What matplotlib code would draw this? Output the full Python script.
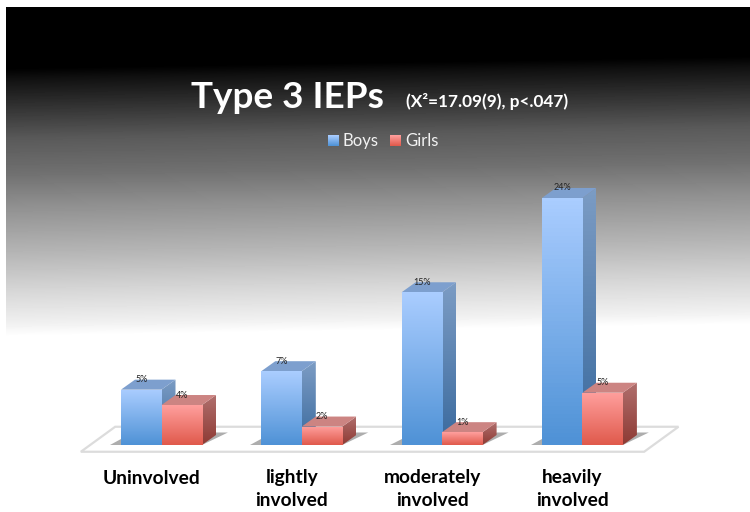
import numpy as np
import matplotlib
matplotlib.use("Agg")
import matplotlib.pyplot as plt
from matplotlib.patches import Polygon, Rectangle
from matplotlib.colors import LinearSegmentedColormap

categories = ["Uninvolved", "lightly\ninvolved", "moderately\ninvolved", "heavily\ninvolved"]
boys = [5.4, 7.2, 14.9, 24.1]
girls = [3.9, 1.8, 1.25, 5.1]
boys_labels = ["5%", "7%", "15%", "24%"]
girls_labels = ["4%", "2%", "1%", "5%"]

W, H = 750, 512
plt.rcParams["font.family"] = ["Lato", "DejaVu Sans"]

fig = plt.figure(figsize=(W / 100, H / 100), dpi=100)

# slide background, the grey ramp is tilted a little (lighter on the right)
bg = fig.add_axes([0, 0, 1, 1])
bg.axis("off")
yy, xx = np.mgrid[7:336, 6:W]
pos = yy + 12 * (xx / W - 0.5)
stops_y = [0, 62, 72, 100, 133, 167, 200, 250, 283, 317, 330, 340]
stops_v = [0, 0, 16, 50, 90, 112, 144, 184, 213, 240, 255, 255]
shade = np.interp(pos, stops_y, stops_v)
bg.imshow(shade, cmap="gray", vmin=0, vmax=255, extent=(6, W, 336, 7), aspect="auto", zorder=0)
bg.set_xlim(0, W)
bg.set_ylim(H, 0)

# chart axes: x in categories, y in percent
px_per_cat = 140.3
px_per_pct = 10.25
x0, y0 = 161.5, 445
ax = fig.add_axes([0, 0, 1, 1])
ax.patch.set_alpha(0)
ax.axis("off")

bw = 40.5 / px_per_cat
dx = 14.0 / px_per_cat
dy = 10.0 / px_per_pct

# floor
floor = [(-0.575, -0.66), (3.44, -0.66), (3.44 + 0.245, 1.78), (-0.575 + 0.245, 1.78)]
ax.add_patch(Polygon(floor, closed=True, fc="white", ec="#dcdcdc", lw=1.6, zorder=1))


def gradient(target, x1, x2, y1, y2, top, bottom, z):
    cm = LinearSegmentedColormap.from_list("g", [top, bottom])
    ax.add_patch(target)
    im = ax.imshow(np.linspace(0, 1, 64)[:, None], cmap=cm, extent=(x1, x2, y1, y2),
                   aspect="auto", zorder=z)
    im.set_clip_path(target)


def draw_bar(x, v, front_c, side_c, top_c, z):
    gradient(Polygon([(x + bw, 0), (x + bw + dx, dy), (x + bw + dx, v + dy), (x + bw, v)], closed=True,
                     fc="none", ec="none"), x + bw, x + bw + dx, 0, v + dy, side_c[0], side_c[1], z)
    ax.add_patch(Polygon([(x, v), (x + bw, v), (x + bw + dx, v + dy), (x + dx, v + dy)],
                         closed=True, fc=top_c, ec="none", zorder=z))
    gradient(Rectangle((x, 0), bw, v, fc="none", ec="none"), x, x + bw, 0, v, front_c[0], front_c[1], z)


for i, (b, g) in enumerate(zip(boys, girls)):
    xb = i - bw
    xg = i
    # soft shadows on the floor
    ax.add_patch(Polygon([(xb - 0.08, 0), (xb, 0), (xb, dy * 0.6)], closed=True, fc="#777777", alpha=0.6, ec="none", zorder=2))
    ax.add_patch(Polygon([(xg + bw, 0), (xg + bw + dx + 0.085, dy * 1.25), (xg + bw + dx, dy * 1.25)],
                         closed=True, fc="#777777", alpha=0.6, ec="none", zorder=2))
    draw_bar(xb, b, ("#aacdff", "#4f92d6"), ("#7c9cc4", "#3a6a9e"), "#7d9fce", 3)
    draw_bar(xg, g, ("#ff9f9d", "#e05a4c"), ("#b06f6d", "#8e3a34"), "#cc8482", 4)
    ax.text(xb + bw / 2, b + dy, boys_labels[i], fontsize=6.5, ha="center", va="center", color="#222222", zorder=6)
    ax.text(xg + bw / 2, g + dy, girls_labels[i], fontsize=6.5, ha="center", va="center", color="#222222", zorder=6)
    ax.text(i - 0.07, -24.5 / px_per_pct, categories[i], fontsize=13.8, fontweight="bold",
            ha="center", va="top", color="black", linespacing=1.36, zorder=6)

ax.set_xlim(-x0 / px_per_cat, (W - x0) / px_per_cat)
ax.set_ylim(-(H - y0) / px_per_pct, y0 / px_per_pct)

# title and legend, placed on the slide
bg.text(287, 97, "Type 3 IEPs", fontsize=26.6, fontweight="bold", color="white", ha="center", va="center")
bg.text(487, 102, "(X²=17.09(9), p<.047)", fontsize=12.4, fontweight="bold", color="white", ha="center", va="center")
blue_cm = LinearSegmentedColormap.from_list("b", ["#aacdff", "#4f92d6"])
red_cm = LinearSegmentedColormap.from_list("r", ["#ff9f9d", "#e05a4c"])
ramp = np.linspace(0, 1, 16)[:, None]
bg.imshow(ramp, cmap=blue_cm, extent=(328, 339, 146, 135), aspect="auto", zorder=2)
bg.imshow(ramp, cmap=red_cm, extent=(390, 401, 146, 135), aspect="auto", zorder=2)
bg.set_xlim(0, W)
bg.set_ylim(H, 0)
bg.text(342, 141, "Boys", fontsize=12, color="#f2f2f2", va="center")
bg.text(405, 141, "Girls", fontsize=12, color="#f2f2f2", va="center")

fig.savefig("out.png", dpi=100)
